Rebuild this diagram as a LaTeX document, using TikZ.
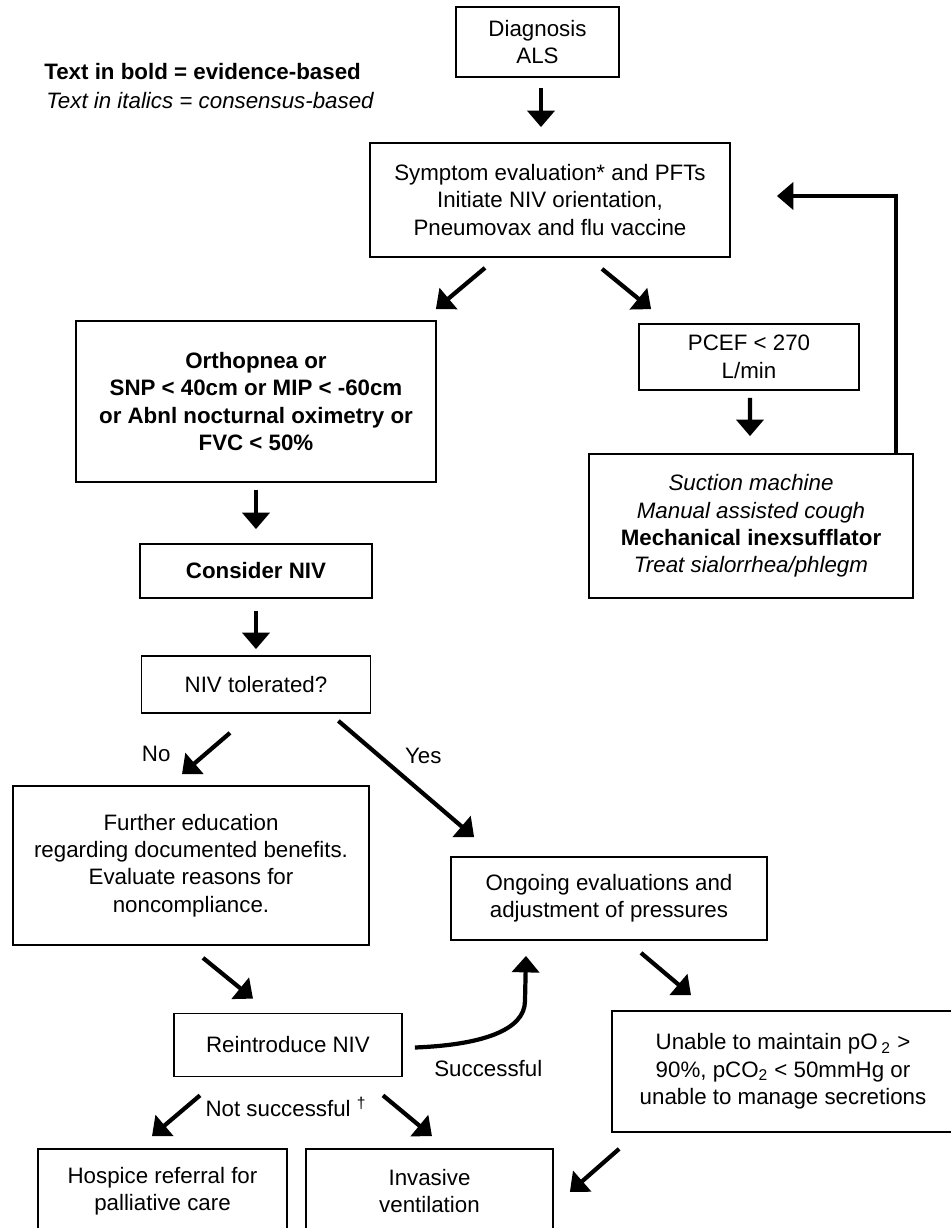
\documentclass[tikz,border=0pt]{standalone}
\usepackage{fontspec}
\setmainfont{Liberation Sans}
\usetikzlibrary{arrows.meta}
\newcommand{\boxfont}{\fontsize{12.7}{15.6}\selectfont}
\tikzstyle{process} = [rectangle, draw=black, line width=1pt, align=center, inner sep=2pt]
\tikzstyle{evidence} = [font=\boxfont\bfseries]
\tikzstyle{keytext} = [inner sep=0pt, anchor=west]
\tikzstyle{remark} = [inner sep=2pt]
\tikzstyle{arrow} = [line width=2.4pt, -{Triangle[length=0.33cm,width=0.54cm]}]

\begin{document}
\begin{tikzpicture}[node distance=2cm, font=\boxfont]
        \useasboundingbox (-10.75,0.84) rectangle (8.27,-23.72);

        \node (diagnosis) [process, minimum width=3.26cm, minimum height=1.4cm] {Diagnosis\\ALS};
        \node (boldkey) [keytext] at (-9.87,-0.6) {\textbf{Text in bold = evidence-based}};
        \node (italickey) [keytext] at (-9.83,-1.18) {\textit{Text in italics = consensus-based}};
        \node (symptoms) [process, below of=diagnosis, xshift=0.25cm, yshift=-1.16cm, minimum width=7.2cm, minimum height=2.28cm] {Symptom evaluation* and PFTs\\Initiate NIV orientation,\\Pneumovax and flu vaccine};
        \node (criteria) [process, evidence, below of=symptoms, xshift=-5.88cm, yshift=-2.03cm, minimum width=7.2cm, minimum height=3.22cm] {Orthopnea or\\SNP < 40cm or MIP < -60cm\\or Abnl nocturnal oximetry or\\FVC < 50\%};
        \node (pcef) [process, below of=symptoms, xshift=3.98cm, yshift=-1.14cm, minimum width=4.4cm, minimum height=1.32cm] {PCEF < 270\\L/min};
        \node (suction) [process, below of=pcef, xshift=0.04cm, yshift=-1.38cm, minimum width=6.48cm, minimum height=2.88cm] {\textit{Suction machine}\\\textit{Manual assisted cough}\\\textbf{Mechanical inexsufflator}\\\textit{Treat sialorrhea/phlegm}};
        \node (considerniv) [process, evidence, below of=criteria, yshift=-1.39cm, minimum width=4.64cm, minimum height=1.08cm] {Consider NIV};
        \node (tolerated) [process, below of=considerniv, yshift=-0.27cm, minimum width=4.58cm, minimum height=1.14cm] {NIV tolerated?};
        \node (education) [process, below of=tolerated, xshift=-1.3cm, yshift=-1.62cm, minimum width=7.12cm, minimum height=3.18cm] {Further education\\regarding documented benefits.\\Evaluate reasons for\\noncompliance.};
        \node (ongoing) [process, below of=tolerated, xshift=7.06cm, yshift=-2.28cm, minimum width=6.32cm, minimum height=1.66cm] {Ongoing evaluations and\\adjustment of pressures};
        \node (reintro) [process, below of=education, xshift=1.94cm, yshift=-1.59cm, minimum width=4.56cm, minimum height=1.26cm] {Reintroduce NIV};
        \node (unable) [process, below of=ongoing, xshift=3.48cm, yshift=-1.46cm, minimum width=6.84cm, minimum height=2.42cm] {Unable to maintain pO\,\textsubscript{2} >\\90\%, pCO\textsubscript{2} < 50mmHg or\\unable to manage secretions};
        \node (hospice) [process, below of=reintro, xshift=-2.51cm, yshift=-0.92cm, minimum width=4.98cm, minimum height=1.68cm] {Hospice referral for\\palliative care};
        \node (invasive) [process, below of=reintro, xshift=2.83cm, yshift=-0.92cm, minimum width=4.94cm, minimum height=1.68cm] {Invasive\\ventilation};
        \node (notsucc) [remark, below of=reintro, xshift=-0.04cm, yshift=0.76cm] {Not successful \textsuperscript{†}};

        \draw [arrow] ([xshift=0.07cm,yshift=-0.2cm]diagnosis.south) -- ([xshift=-0.18cm,yshift=0.3cm]symptoms.north);
        \draw [arrow] ([xshift=-1.3cm,yshift=-0.2cm]symptoms.south) -- ([xshift=-0.02cm,yshift=0.22cm]criteria.north east);
        \draw [arrow] ([xshift=1.04cm,yshift=-0.22cm]symptoms.south) -- ([xshift=0.26cm,yshift=0.28cm]pcef.north west);
        \draw [arrow] ([xshift=0.02cm,yshift=-0.14cm]pcef.south) -- ([xshift=-0.02cm,yshift=0.34cm]suction.north);
        \draw [arrow] ([xshift=-0.36cm]suction.north east) |- ([xshift=0.92cm,yshift=0.08cm]symptoms.east);
        \draw [arrow] ([yshift=-0.14cm]criteria.south) -- ([yshift=0.28cm]considerniv.north);
        \draw [arrow] ([yshift=-0.24cm]considerniv.south) -- ([yshift=0.12cm]tolerated.north);
        \draw [arrow] ([xshift=-0.52cm,yshift=-0.38cm]tolerated.south) -- node[left=0.55cm] {No} ([xshift=-0.18cm,yshift=0.22cm]education.north);
        \draw [arrow] ([xshift=-0.66cm,yshift=-0.14cm]tolerated.south east) -- node[pos=0.3, right=0.36cm] {Yes} ([xshift=0.48cm,yshift=0.38cm]ongoing.north west);
        \draw [arrow] ([xshift=0.24cm,yshift=-0.24cm]education.south) -- ([xshift=-0.7cm,yshift=0.28cm]reintro.north);
        \draw [arrow] ([xshift=0.64cm,yshift=-0.24cm]ongoing.south) -- ([xshift=-1.84cm,yshift=0.3cm]unable.north);
        \draw [arrow] ([xshift=0.24cm,yshift=-0.05cm]reintro.east) node[anchor=west, xshift=0.23cm, yshift=-0.42cm] {Successful} .. controls +(1.3,0.05) and +(0,-0.6) .. ([xshift=-1.68cm,yshift=-1.2cm]ongoing.south) -- ([xshift=-1.66cm,yshift=-0.3cm]ongoing.south);
        \draw [arrow] ([xshift=-1.76cm,yshift=-0.36cm]reintro.south) -- ([xshift=-0.21cm,yshift=0.24cm]hospice.north);
        \draw [arrow] ([xshift=1.9cm,yshift=-0.36cm]reintro.south) -- ([xshift=0.05cm,yshift=0.24cm]invasive.north);
        \draw [arrow] ([xshift=0.16cm,yshift=-0.32cm]unable.south west) -- ([xshift=0.32cm,yshift=-0.02cm]invasive.east);

      \end{tikzpicture}
\end{document}
